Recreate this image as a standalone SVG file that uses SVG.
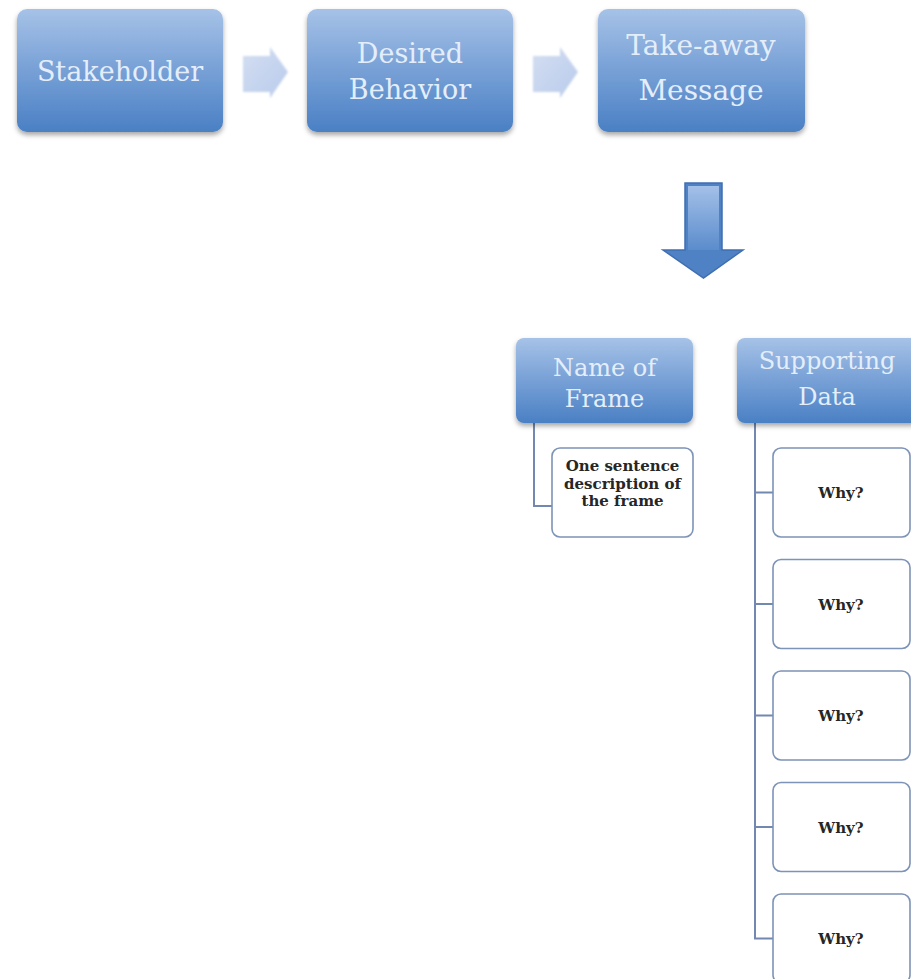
<svg xmlns="http://www.w3.org/2000/svg" width="911" height="979" viewBox="0 0 911 979">
<defs>
<linearGradient id="gBlue" x1="0" y1="0" x2="0" y2="1">
<stop offset="0" stop-color="#a6c2e7"/>
<stop offset="0.5" stop-color="#77a0d6"/>
<stop offset="1" stop-color="#4a80c4"/>
</linearGradient>
<linearGradient id="gSmall" x1="0" y1="0" x2="1" y2="1">
<stop offset="0" stop-color="#d3def2"/>
<stop offset="1" stop-color="#b9cbeb"/>
</linearGradient>
<linearGradient id="gDown" x1="0" y1="0" x2="0" y2="1">
<stop offset="0" stop-color="#a3c0e8"/>
<stop offset="1" stop-color="#5b8ccc"/>
</linearGradient>
<filter id="sh" x="-10%" y="-10%" width="120%" height="130%">
<feDropShadow dx="0" dy="3" stdDeviation="2.5" flood-color="#000" flood-opacity="0.35"/>
</filter>
<filter id="blur" x="-20%" y="-20%" width="140%" height="140%">
<feGaussianBlur stdDeviation="1"/>
</filter>
</defs>
<style>
.bx{fill:url(#gBlue);filter:url(#sh)}
.wb{fill:#ffffff;stroke:#7d93b7;stroke-width:1.6}
.tl{font-family:"DejaVu Serif","Liberation Serif",serif;fill:#e4eefa;text-anchor:middle}
.td{font-family:"DejaVu Serif","Liberation Serif",serif;fill:#262626;font-weight:bold;text-anchor:middle;font-size:15px}
.cn{fill:none;stroke:#7388b0;stroke-width:2}
</style>

<g id="connectors">
<path class="cn" d="M534 423 V506 H552"/>
<path class="cn" d="M755 423 V938.5 H773 M755 492.5 H773 M755 604 H773 M755 715.5 H773 M755 827 H773"/>
<polygon points="243,56 270,56 270,47 288,72 270,98 270,92 243,92" fill="url(#gSmall)" filter="url(#blur)"/>
<polygon points="533,56 560,56 560,47 578,72 560,98 560,92 533,92" fill="url(#gSmall)" filter="url(#blur)"/>
<g id="down-arrow">
<polygon points="685,183 722,183 722,250 743,250 703.5,278 663,250 685,250" fill="#4f82c4" stroke="#3f6fb2" stroke-width="1.5"/>
<rect x="688" y="186" width="31" height="64" fill="url(#gDown)"/>
</g>
</g>

<g id="stakeholder">
<rect class="bx" x="17" y="9" width="206" height="123" rx="10"/>
<text class="tl" x="120" y="81" font-size="27">Stakeholder</text>
</g>
<g id="desired-behavior">
<rect class="bx" x="307" y="9" width="206" height="123" rx="10"/>
<text class="tl" x="410" y="63" font-size="27">Desired</text>
<text class="tl" x="410" y="99" font-size="27">Behavior</text>
</g>
<g id="take-away-message">
<rect class="bx" x="598" y="9" width="207" height="123" rx="10"/>
<text class="tl" x="701" y="55" font-size="28">Take-away</text>
<text class="tl" x="701" y="100" font-size="28">Message</text>
</g>

<g id="name-of-frame">
<rect class="bx" x="516" y="338" width="177" height="85" rx="8"/>
<text class="tl" x="604.5" y="376" font-size="24">Name of</text>
<text class="tl" x="604.5" y="407" font-size="24">Frame</text>
</g>
<g id="supporting-data">
<rect class="bx" x="737" y="338" width="182" height="85" rx="8"/>
<text class="tl" x="827" y="369" font-size="24">Supporting</text>
<text class="tl" x="827" y="405" font-size="24">Data</text>
</g>

<g id="description">
<rect class="wb" x="552" y="448" width="141" height="89" rx="8"/>
<text class="td" x="622.5" y="471">One sentence</text>
<text class="td" x="622.5" y="488.5">description of</text>
<text class="td" x="622.5" y="506">the frame</text>
</g>
<g id="why-1">
<rect class="wb" x="773" y="448" width="137" height="89" rx="8"/>
<text class="td" x="841" y="498" font-size="16">Why?</text>
</g>
<g id="why-2">
<rect class="wb" x="773" y="559.5" width="137" height="89" rx="8"/>
<text class="td" x="841" y="609.5" font-size="16">Why?</text>
</g>
<g id="why-3">
<rect class="wb" x="773" y="671" width="137" height="89" rx="8"/>
<text class="td" x="841" y="721" font-size="16">Why?</text>
</g>
<g id="why-4">
<rect class="wb" x="773" y="782.5" width="137" height="89" rx="8"/>
<text class="td" x="841" y="832.5" font-size="16">Why?</text>
</g>
<g id="why-5">
<rect class="wb" x="773" y="894" width="137" height="89" rx="8"/>
<text class="td" x="841" y="944" font-size="16">Why?</text>
</g>
</svg>
